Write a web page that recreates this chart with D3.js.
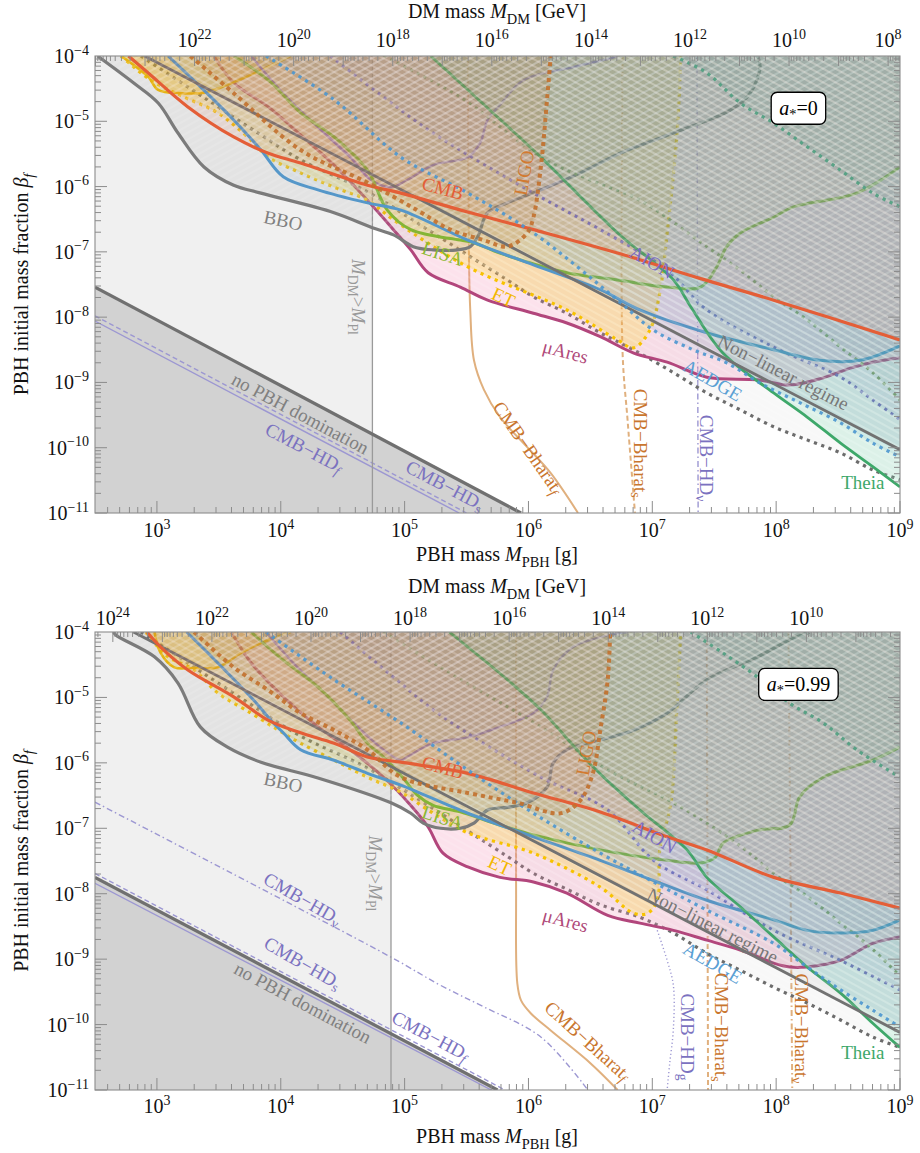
<!DOCTYPE html>
<html><head><meta charset="utf-8">
<script src="https://cdn.jsdelivr.net/npm/d3@7"></script>
<style>
body{margin:0;background:#fff;}
svg text{font-family:"Liberation Serif","Times New Roman",serif;}
</style></head><body>
<svg id="chart" width="920" height="1153"></svg>
<script>
// ---------- axis ranges (log10) ----------
const xRangeExp = [2.5, 9];      // PBH mass [g]
const yRangeExp = [-11, -4];     // beta_f
const xTickExps = [3,4,5,6,7,8,9];
const yTickExps = [-4,-5,-6,-7,-8,-9,-10,-11];
const dmLabelExpsTop = [22,20,18,16,14,12,10,8];
const dmLabelExpsBot = [24,22,20,18,16,14,12,10];
const dmOffsetTop = 30.26, dmOffsetBot = 30.61;   // log10 M_DM = offset - 2.5 log10 M_PBH
const mdmTop = 4.74, mdmBot = 4.89;               // M_DM > M_Pl boundary (log10 g)

// ---------- curves: [log10 M_PBH, log10 beta] ----------  (a* = 0)
const grayTop = [[2.87,-4.00],[3.35,-4.60],[3.84,-5.21],[4.16,-5.59],[4.70,-6.08],[5.13,-6.59],[5.51,-7.05],[5.83,-7.43],[6.04,-7.69],[6.31,-7.94],[6.58,-8.24],[6.85,-8.50],[7.17,-8.85],[7.44,-9.16],[7.71,-9.42],[7.98,-9.68],[8.25,-9.88],[8.52,-10.08],[8.78,-10.34],[9.00,-10.49]];
const bboTop = [[2.52,-4.00],[2.81,-4.41],[3.01,-4.72],[3.17,-5.18],[3.38,-5.70],[3.62,-5.98],[3.84,-6.10],[4.43,-6.40],[4.74,-6.63],[4.91,-6.74],[5.07,-6.92],[5.23,-6.97],[5.43,-6.97],[5.53,-6.92],[5.59,-6.77],[5.67,-6.40],[5.83,-6.25],[6.10,-6.05],[6.42,-5.79],[6.74,-5.49],[7.17,-5.18],[7.63,-4.83],[7.79,-4.57],[7.87,-4.17],[7.85,-4.00]];
const ligoTop = [[3.27,-4.00],[3.62,-4.57],[4.16,-5.44],[4.70,-5.94],[5.10,-6.36],[5.37,-6.66],[5.64,-6.82],[5.83,-6.92],[5.99,-6.71],[6.04,-6.47],[6.10,-5.70],[6.15,-4.67],[6.18,-4.00]];
const purpTop = [[3.76,-4.00],[4.02,-4.57],[4.30,-5.09],[4.56,-5.55],[4.73,-5.90],[4.89,-6.01],[5.02,-5.90],[5.23,-5.67],[5.51,-5.55],[5.61,-5.33],[5.67,-4.98],[5.77,-4.75],[5.96,-4.37],[6.36,-4.17],[6.69,-4.02],[6.72,-4.00]];
const oliveTop = [[4.83,-4.00],[5.45,-4.63],[6.10,-5.55],[6.50,-5.90],[6.90,-6.21],[7.44,-6.92],[7.71,-7.28],[7.98,-7.69],[8.25,-8.04],[8.52,-8.46],[8.78,-8.85],[9.00,-9.27]];
const yellowTop = [[2.71,-4.00],[2.93,-4.32],[3.01,-4.52],[3.19,-4.57],[3.41,-4.55],[3.57,-4.44],[3.76,-4.29],[4.08,-4.00]];
const lisaTop = [[3.62,-4.00],[3.90,-4.37],[4.16,-4.87],[4.43,-5.24],[4.70,-5.75],[4.86,-6.36],[5.05,-6.66],[5.45,-6.82],[5.56,-6.86],[5.77,-7.02],[6.31,-7.32],[6.72,-7.43],[7.12,-7.54],[7.39,-7.54],[7.52,-7.23],[7.60,-6.92],[7.71,-6.71],[7.98,-6.47],[8.14,-6.31],[8.65,-6.10],[9.00,-5.70]];
const aionTop = [[4.40,-4.00],[4.81,-4.60],[5.23,-5.18],[6.04,-6.10],[6.58,-6.66],[7.12,-7.28],[7.44,-7.89],[7.98,-8.46],[8.52,-8.92],[8.78,-9.27],[9.00,-9.57]];
const tealTop = [[7.17,-4.00],[7.44,-4.26],[7.71,-4.72],[7.98,-5.03],[8.25,-5.39],[8.52,-5.75],[8.78,-6.10],[9.00,-6.31]];
const muTop = [[3.46,-4.00],[3.62,-4.41],[3.90,-4.78],[4.16,-5.21],[4.43,-5.67],[4.70,-6.21],[4.91,-6.66],[5.05,-6.97],[5.19,-7.32],[5.45,-7.54],[5.67,-7.74],[6.04,-7.94],[6.31,-8.09],[6.58,-8.30],[6.85,-8.55],[7.12,-8.69],[7.44,-8.92],[7.85,-8.96],[8.11,-9.04],[8.38,-8.93],[8.60,-8.78],[8.78,-8.69],[9.00,-8.62]];
const etTop = [[2.71,-4.00],[2.95,-4.37],[3.22,-4.63],[3.49,-4.87],[3.76,-5.29],[3.90,-5.55],[4.16,-5.79],[4.43,-6.01],[4.70,-6.21],[4.91,-6.51],[5.51,-7.23],[6.31,-7.89],[6.72,-8.35],[6.85,-8.47],[6.98,-8.20],[7.06,-7.63],[7.12,-6.71],[7.20,-5.18],[7.23,-4.00]];
const aedgeTop = [[3.88,-4.00],[4.43,-4.67],[4.97,-5.55],[5.51,-6.10],[6.04,-6.71],[6.72,-7.74],[7.01,-8.20],[7.33,-8.50],[7.60,-8.70],[7.87,-9.01],[8.19,-9.31],[8.52,-9.62],[8.78,-9.93],[9.00,-10.14]];
const blueTop = [[3.09,-4.00],[3.35,-4.47],[3.62,-4.98],[3.84,-5.44],[4.02,-5.85],[4.30,-6.05],[4.70,-6.25],[4.97,-6.36],[5.51,-6.82],[6.04,-7.20],[6.58,-7.58],[6.90,-7.89],[7.44,-8.24],[7.98,-8.50],[8.35,-8.66],[8.68,-8.66],[9.00,-8.44]];
const theiaTop = [[5.21,-4.00],[5.69,-4.83],[6.10,-5.55],[6.72,-6.71],[7.17,-7.43],[7.31,-7.84],[7.57,-8.55],[7.98,-9.16],[8.25,-9.53],[8.52,-9.93],[8.78,-10.29],[9.00,-10.60]];
const nonlinTop = [[2.90,-4.00],[9.00,-10.03]];
const cmbTop = [[2.77,-4.00],[2.93,-4.26],[3.25,-4.78],[3.62,-5.24],[3.90,-5.49],[4.16,-5.64],[4.70,-5.98],[4.97,-6.10],[5.51,-6.39],[6.04,-6.66],[6.74,-7.03],[7.39,-7.41],[7.98,-7.74],[9.00,-8.35]];
const noPbhTop = [[2.50,-7.54],[5.94,-11.00]];
const hdfTop = [[2.50,-8.06],[5.44,-11.00]];
const hdsTop = [[2.50,-7.98],[5.50,-11.00]];
const hdnuTop = [[7.36,-4.00],[7.37,-11.00]];
const bharatFTop = [[5.51,-4.00],[5.52,-7.12],[5.53,-7.89],[5.56,-8.66],[5.64,-9.11],[5.77,-9.53],[5.99,-9.99],[6.18,-10.39],[6.40,-11.00]];
const bharatSTop = [[6.76,-4.00],[6.76,-8.55],[6.80,-9.57],[6.86,-11.00]];

// ---------- (a* = 0.99) ----------
const grayBot = [[2.87,-4.00],[3.35,-4.60],[3.84,-5.21],[4.16,-5.59],[4.70,-6.08],[5.13,-6.58],[5.51,-7.04],[5.83,-7.43],[6.04,-7.69],[6.31,-7.93],[6.58,-8.17],[6.90,-8.36],[7.17,-8.60],[7.44,-8.91],[7.71,-9.17],[7.98,-9.43],[8.25,-9.67],[8.52,-9.93],[8.78,-10.19],[9.00,-10.35]];
const bboBot = [[2.65,-4.00],[2.67,-4.05],[2.98,-4.38],[3.17,-4.78],[3.35,-5.45],[3.57,-5.76],[3.84,-5.99],[4.30,-6.23],[4.89,-6.61],[5.05,-6.77],[5.15,-6.92],[5.29,-7.00],[5.45,-7.00],[5.56,-6.92],[5.67,-6.72],[5.83,-6.68],[5.99,-6.61],[6.15,-6.37],[6.20,-6.00],[6.31,-5.80],[6.58,-5.65],[6.85,-5.50],[7.12,-5.24],[7.44,-4.73],[7.85,-4.38],[8.11,-4.12],[8.27,-4.00]];
const ligoBot = [[3.30,-4.00],[3.62,-4.54],[3.90,-4.89],[4.16,-5.24],[4.43,-5.50],[4.70,-5.80],[4.97,-6.22],[5.51,-6.46],[5.91,-6.61],[6.26,-6.77],[6.42,-6.57],[6.52,-6.16],[6.58,-5.50],[6.64,-4.73],[6.66,-4.00]];
const purpBot = [[3.88,-4.00],[4.10,-4.47],[4.38,-4.99],[4.65,-5.50],[4.83,-5.80],[4.97,-5.96],[5.02,-5.91],[5.23,-5.70],[5.51,-5.61],[5.77,-5.45],[6.04,-5.24],[6.15,-4.99],[6.20,-4.58],[6.36,-4.23],[6.72,-4.02],[6.80,-4.00]];
const oliveBot = [[4.83,-4.00],[5.29,-4.54],[6.10,-5.45],[6.64,-6.11],[7.17,-6.61],[7.71,-7.27],[7.98,-7.69],[8.25,-8.04],[8.52,-8.45],[8.78,-8.85],[9.00,-9.26]];
const yellowBot = [[2.98,-4.00],[3.03,-4.32],[3.14,-4.54],[3.30,-4.55],[3.49,-4.54],[3.68,-4.32],[3.84,-4.17],[4.08,-4.00]];
const lisaBot = [[3.76,-4.00],[4.02,-4.43],[4.30,-4.84],[4.56,-5.35],[4.70,-5.70],[4.83,-5.91],[4.97,-6.19],[5.10,-6.49],[5.23,-6.65],[5.45,-6.75],[5.77,-6.95],[6.04,-7.10],[6.58,-7.33],[7.12,-7.49],[7.39,-7.53],[7.51,-7.44],[7.57,-7.23],[7.85,-7.03],[8.11,-6.95],[8.19,-6.52],[8.38,-6.22],[8.78,-5.96],[9.00,-5.76]];
const aionBot = [[4.48,-4.00],[4.89,-4.66],[5.29,-5.27],[6.10,-6.22],[6.64,-6.72],[7.01,-7.49],[7.44,-7.94],[7.98,-8.56],[8.52,-9.02],[9.00,-9.47]];
const tealBot = [[7.31,-4.00],[7.57,-4.32],[7.85,-4.69],[8.11,-5.09],[8.38,-5.39],[8.65,-5.80],[9.00,-6.22]];
const muBot = [[3.60,-4.00],[3.76,-4.47],[4.02,-4.99],[4.30,-5.45],[4.56,-5.80],[4.83,-6.22],[5.05,-6.65],[5.19,-6.98],[5.31,-7.38],[5.51,-7.59],[5.77,-7.75],[6.04,-7.82],[6.31,-7.99],[6.64,-8.33],[6.90,-8.45],[7.17,-8.56],[7.44,-8.71],[7.71,-8.86],[7.98,-9.06],[8.11,-9.12],[8.25,-9.12],[8.52,-9.02],[8.78,-8.76],[9.00,-8.66]];
const etBot = [[2.91,-4.00],[3.09,-4.38],[3.30,-4.58],[3.49,-4.93],[3.76,-5.24],[3.98,-5.50],[4.16,-5.70],[4.43,-5.96],[4.70,-6.22],[4.97,-6.45],[5.23,-6.77],[5.51,-7.07],[6.04,-7.38],[6.58,-7.90],[6.85,-8.30],[6.96,-8.30],[7.04,-8.10],[7.06,-7.33],[7.15,-6.61],[7.20,-5.09],[7.23,-4.00]];
const aedgeBot = [[3.88,-4.00],[4.43,-4.73],[4.97,-5.39],[5.51,-6.11],[6.04,-6.77],[6.58,-7.38],[6.98,-7.79],[7.44,-8.25],[7.98,-8.76],[8.25,-9.12],[8.52,-9.47],[8.78,-9.78],[9.00,-10.04]];
const blueBot = [[3.24,-4.00],[3.49,-4.47],[3.78,-5.04],[3.94,-5.39],[4.02,-5.54],[4.16,-5.80],[4.43,-5.96],[4.70,-6.16],[4.97,-6.34],[5.51,-6.77],[6.04,-7.13],[6.58,-7.49],[6.90,-7.72],[7.44,-8.10],[7.98,-8.40],[8.25,-8.56],[8.52,-8.60],[8.78,-8.56],[9.00,-8.40]];
const theiaBot = [[5.36,-4.00],[5.83,-4.73],[6.10,-5.19],[6.52,-6.06],[6.90,-6.72],[7.28,-7.33],[7.44,-7.75],[7.71,-8.20],[7.98,-8.66],[8.25,-9.12],[8.52,-9.52],[8.78,-9.98],[9.00,-10.35]];
const nonlinBot = [[2.81,-4.00],[9.00,-10.12]];
const cmbBot = [[2.92,-4.00],[3.03,-4.23],[3.25,-4.58],[3.62,-4.99],[3.90,-5.35],[4.16,-5.54],[4.43,-5.70],[4.70,-5.91],[4.97,-5.99],[5.51,-6.16],[6.04,-6.46],[6.58,-6.75],[7.12,-7.13],[7.44,-7.33],[7.98,-7.75],[8.52,-7.99],[9.00,-8.22]];
const noPbhBot = [[2.50,-7.75],[5.75,-11.00]];
const hdfBot = [[2.50,-7.84],[5.70,-11.00]];
const hdsBot = [[2.50,-7.69],[5.81,-11.00]];
const hdnuBot = [[2.50,-6.60],[4.89,-8.97],[5.29,-9.40],[5.64,-9.73],[6.10,-10.19],[6.48,-11.00]];
const hdgBot = [[7.04,-8.56],[7.12,-9.02],[7.17,-9.40],[7.17,-10.07],[7.14,-10.60],[7.12,-11.00]];
const bharatFBot = [[5.90,-4.00],[5.90,-7.84],[5.91,-9.37],[5.94,-9.63],[6.02,-9.83],[6.18,-10.09],[6.50,-10.59],[6.72,-11.00]];
const bharatSBot = [[7.44,-4.00],[7.45,-11.00]];
const bharatNuBot = [[8.10,-4.00],[8.13,-11.00]];

// ---------- styles ----------
const styles = {
  gray:  {fill:'#a0a0a0', fo:0.07, hatch:'hB', stroke:'#6c6c6c', sw:3.2, dash:'3.2,4.5'},
  mu:    {fill:'#f07aaa', fo:0.22, hatch:'hB', stroke:'#b2467c', sw:3},
  et:    {fill:'#ffd400', fo:0.24, hatch:'hB', stroke:'#f7c200', sw:3.2, dash:'3.2,4.5'},
  yellow:{fill:'#f2c200', fo:0.22, hatch:'hB', stroke:'#f2b900', sw:2.6},
  bbo:   {fill:'#8c8c8c', fo:0.12, hatch:'hA', stroke:'#7b7b7b', sw:3.2},
  purp:  {fill:'#8a6aa8', fo:0.09, hatch:'hA', stroke:'#9a78b6', sw:2.4},
  olive: {fill:'#90aa60', fo:0.08, hatch:'hA', stroke:'#8aa35e', sw:3, dash:'3,4.5'},
  lisa:  {fill:'#8cba38', fo:0.09, hatch:'hA', stroke:'#84b535', sw:3},
  aion:  {fill:'#7c6cc0', fo:0.10, hatch:'hA', stroke:'#7b6cc2', sw:3, dash:'3,4.5'},
  teal:  {fill:'#3fa882', fo:0.13, hatch:'hA', stroke:'#4f9f80', sw:3.2, dash:'3.2,4.5', late:true},
  aedge: {fill:'#58a2dc', fo:0.13, hatch:'hB', stroke:'#4b96cf', sw:3.2, dash:'3.2,4.5', late:true},
  blue:  {fill:'#5a9ad0', fo:0.08, hatch:'hB', stroke:'#5597c9', sw:3},
  theia: {fill:'#3cc88e', fo:0.15, hatch:'hB', stroke:'#3ea86a', sw:2.8},
  ligo:  {fill:'#c87a30', fo:0.16, hatch:'hA', stroke:'#c2702c', sw:4, dash:'4,4', late:true},
  nonlin:{fill:'#707070', fo:0.08, hatch:'hB', stroke:'#727272', sw:2.8},
  cmb:   {fill:'#e06040', fo:0.11, hatch:'hA', stroke:'#e45e37', sw:3.2}
};
const order = ['gray','mu','et','yellow','bbo','purp','olive','lisa','aion','teal','aedge','blue','theia','ligo','nonlin','cmb'];

const curvesTop = {gray:grayTop,bbo:bboTop,ligo:ligoTop,purp:purpTop,olive:oliveTop,yellow:yellowTop,lisa:lisaTop,aion:aionTop,teal:tealTop,mu:muTop,et:etTop,aedge:aedgeTop,blue:blueTop,theia:theiaTop,nonlin:nonlinTop,cmb:cmbTop};
const curvesBot = {gray:grayBot,bbo:bboBot,ligo:ligoBot,purp:purpBot,olive:oliveBot,yellow:yellowBot,lisa:lisaBot,aion:aionBot,teal:tealBot,mu:muBot,et:etBot,aedge:aedgeBot,blue:blueBot,theia:theiaBot,nonlin:nonlinBot,cmb:cmbBot};

const HDC='#9c97d2', HDL='#7b72c0', BHC='#e0b07e', BHL='#c9762e';
const linesTop = [
  {d:hdfTop, c:HDC, w:1.4},
  {d:hdsTop, c:HDC, w:1.4, dash:'5,3'},
  {d:hdnuTop, c:HDC, w:1.4, dash:'6,3,1.5,3'},
  {d:bharatFTop, c:BHC, w:2},
  {d:bharatSTop, c:BHC, w:2, dash:'5,3'}
];
const linesBot = [
  {d:hdfBot, c:HDC, w:1.4},
  {d:hdsBot, c:HDC, w:1.4, dash:'5,3'},
  {d:hdnuBot, c:HDC, w:1.4, dash:'6,3,1.5,3'},
  {d:hdgBot, c:HDC, w:1.4, dash:'1.2,2.5'},
  {d:bharatFBot, c:BHC, w:2},
  {d:bharatSBot, c:BHC, w:2, dash:'5,3'},
  {d:bharatNuBot, c:BHC, w:2, dash:'6,3,1.5,3'}
];

const labelsTop = [
  {p:[['CMB']], X:5.31, Y:-6.02, r:15, c:'#e45e37'},
  {p:[['LIGO']], X:5.96, Y:-5.79, r:-80, c:'#d27a30'},
  {p:[['BBO']], X:4.02, Y:-6.51, r:12, c:'#808080'},
  {p:[['LISA']], X:5.31, Y:-7.02, r:18, c:'#8ab833'},
  {p:[['ET']], X:5.80, Y:-7.69, r:25, c:'#f2b800'},
  {p:[['μAres']], X:6.30, Y:-8.52, r:15, c:'#b04a7a'},
  {p:[['AION']], X:7.00, Y:-7.15, r:30, c:'#7b6cc2'},
  {p:[['AEDGE']], X:7.49, Y:-8.96, r:30, c:'#5aa0d4'},
  {p:[['Non−linear regime']], X:8.06, Y:-8.84, r:27, c:'#777'},
  {p:[['Theia']], X:8.70, Y:-10.52, r:0, c:'#3ea86a'},
  {p:[['CMB−Bharat'],['f','subi']], X:6.00, Y:-9.99, r:55, c:BHL},
  {p:[['CMB−Bharat'],['s','sub']], X:6.91, Y:-9.93, r:90, c:BHL},
  {p:[['CMB−HD'],['ν','sub']], X:7.44, Y:-10.16, r:90, c:HDL},
  {p:[['no PBH domination']], X:4.16, Y:-9.47, r:28, c:'#808080'},
  {p:[['CMB−HD'],['f','subi']], X:4.19, Y:-9.99, r:28, c:HDL},
  {p:[['CMB−HD'],['s','sub']], X:5.33, Y:-10.57, r:28, c:HDL},
  {p:[['M','i'],['DM','sub'],['>'],['M','i'],['Pl','sub']], X:4.63, Y:-7.69, r:90, c:'#999', s:19}
];
const labelsBot = [
  {p:[['CMB']], X:5.31, Y:-6.06, r:15, c:'#e45e37'},
  {p:[['LIGO']], X:6.46, Y:-5.85, r:-80, c:'#d27a30'},
  {p:[['BBO']], X:4.02, Y:-6.29, r:12, c:'#808080'},
  {p:[['LISA']], X:5.31, Y:-6.83, r:18, c:'#8ab833'},
  {p:[['ET']], X:5.77, Y:-7.56, r:25, c:'#f2b800'},
  {p:[['μAres']], X:6.30, Y:-8.40, r:15, c:'#b04a7a'},
  {p:[['AION']], X:7.02, Y:-7.12, r:30, c:'#7b6cc2'},
  {p:[['AEDGE']], X:7.49, Y:-9.05, r:30, c:'#5aa0d4'},
  {p:[['Non−linear regime']], X:7.49, Y:-8.48, r:27, c:'#777'},
  {p:[['Theia']], X:8.70, Y:-10.42, r:0, c:'#3ea86a'},
  {p:[['CMB−Bharat'],['f','subi']], X:6.48, Y:-10.24, r:42, c:BHL},
  {p:[['CMB−HD'],['g','sub']], X:7.29, Y:-10.19, r:90, c:HDL},
  {p:[['CMB−Bharat'],['s','sub']], X:7.56, Y:-10.04, r:90, c:BHL},
  {p:[['CMB−Bharat'],['ν','sub']], X:8.21, Y:-10.06, r:90, c:BHL},
  {p:[['CMB−HD'],['ν','sub']], X:4.18, Y:-8.07, r:30, c:HDL},
  {p:[['CMB−HD'],['s','sub']], X:4.18, Y:-9.05, r:30, c:HDL},
  {p:[['no PBH domination']], X:4.18, Y:-9.66, r:28, c:'#808080'},
  {p:[['CMB−HD'],['f','subi']], X:5.21, Y:-10.16, r:28, c:HDL},
  {p:[['M','i'],['DM','sub'],['>'],['M','i'],['Pl','sub']], X:4.77, Y:-7.69, r:90, c:'#999', s:19}
];

// ---------- drawing ----------
const svg = d3.select('#chart');
const defs = svg.append('defs');
function hatch(id, angle){
  const p = defs.append('pattern').attr('id',id).attr('patternUnits','userSpaceOnUse')
    .attr('width',12).attr('height',6).attr('patternTransform',`rotate(${angle})`);
  p.append('line').attr('x1',0).attr('x2',12).attr('y1',3).attr('y2',3)
    .attr('stroke','#fff').attr('stroke-width',0.8).attr('stroke-opacity',0.3);
}
hatch('hA',-29); hatch('hB',29);

function rich(textSel, parts, size){
  let cur = 0;
  for (const [t,k] of parts){
    const ts = textSel.append('tspan').text(t);
    let off = 0, fs = size;
    if (k && k.startsWith('sub')) { off = size*0.28; fs = size*0.72; }
    else if (k === 'sup') { off = -size*0.42; fs = size*0.7; }
    ts.attr('font-size', fs);
    if (off !== cur) { ts.attr('dy', off-cur); cur = off; }
    if (k === 'i' || k === 'subi') ts.attr('font-style','italic');
  }
}

const L = 95, R = 900;
function drawPanel(cfg){
  const x = d3.scaleLog().domain([10**xRangeExp[0], 10**xRangeExp[1]]).range([L,R]);
  const y = d3.scaleLog().domain([10**yRangeExp[0], 10**yRangeExp[1]]).range([cfg.bottom, cfg.top]);
  const px = d => x(10**d[0]), py = d => y(10**d[1]);
  const smooth = d3.line().x(px).y(py).curve(d3.curveCatmullRom.alpha(0.5));
  const straight = d3.line().x(px).y(py);
  const clipId = 'clip'+cfg.id;
  defs.append('clipPath').attr('id',clipId).append('rect')
    .attr('x',L).attr('y',cfg.top).attr('width',R-L).attr('height',cfg.bottom-cfg.top);
  const g = svg.append('g');
  const plot = g.append('g').attr('clip-path',`url(#${clipId})`);

  plot.append('rect').attr('x',L).attr('y',cfg.top).attr('width',x(10**cfg.mdm)-L)
    .attr('height',cfg.bottom-cfg.top).attr('fill','#f0f0f0');
  const np = cfg.noPbh;
  const npPath = straight(np) + [[np[1][0]+0.5,-11.5],[2.3,-11.5],[2.3,np[0][1]]].map(p=>`L${px(p)},${py(p)}`).join('') + 'Z';
  plot.append('path').attr('d',npPath).attr('fill','#d2d2d2');

  cfg.lines.forEach(l => {
    plot.append('path').attr('d', (l.d.length>2?smooth:straight)(l.d)).attr('fill','none')
      .attr('stroke',l.c).attr('stroke-width',l.w).attr('stroke-dasharray',l.dash||null);
  });
  plot.append('line').attr('x1',x(10**cfg.mdm)).attr('x2',x(10**cfg.mdm))
    .attr('y1',cfg.top).attr('y2',cfg.bottom).attr('stroke','#9a9a9a').attr('stroke-width',1.3);

  const lateLines = [];
  order.forEach(k => {
    const pts = cfg.curves[k], st = styles[k];
    const gen = pts.length > 2 ? smooth : straight;
    const first = pts[0], last = pts[pts.length-1];
    let extras;
    if (last[0] >= 8.99) extras = [[9.3,last[1]],[9.3,-3.5],[first[0],-3.5]];
    else extras = [[last[0],-3.5],[first[0],-3.5]];
    const d = gen(pts) + extras.map(p=>`L${px(p)},${py(p)}`).join('') + 'Z';
    plot.append('path').attr('d',d).attr('fill',st.fill).attr('fill-opacity',st.fo);
    plot.append('path').attr('d',d).attr('fill',`url(#${st.hatch})`);
    if (st.late) lateLines.push([gen(pts), st]);
    else plot.append('path').attr('d',gen(pts)).attr('fill','none').attr('stroke',st.stroke)
      .attr('stroke-width',st.sw).attr('stroke-dasharray',st.dash||null);
  });
  lateLines.forEach(([d, st]) => {
    plot.append('path').attr('d',d).attr('fill','none').attr('stroke',st.stroke).attr('stroke-opacity',0.9)
      .attr('stroke-width',st.sw).attr('stroke-dasharray',st.dash||null);
  });
  plot.append('path').attr('d',straight(np)).attr('stroke','#707070').attr('stroke-width',3.2).attr('fill','none');

  cfg.labels.forEach(lb => {
    const t = g.append('text').attr('transform',`translate(${px([lb.X,lb.Y])},${py([lb.X,lb.Y])}) rotate(${lb.r})`)
      .attr('text-anchor','middle').attr('dominant-baseline','central').attr('fill',lb.c);
    rich(t, lb.p, lb.s||19);
  });

  const bx = px([8.18,0]), by = py([0,-4.80]);
  const bt = g.append('text').attr('x',bx).attr('y',by).attr('text-anchor','middle').attr('dominant-baseline','central').attr('fill','#000');
  rich(bt, [['a','i'],['*','sub'],['='+cfg.spin]], 20);
  const bb = bt.node().getBBox();
  g.insert('rect','text:last-child').attr('x',bb.x-8).attr('y',by-16).attr('width',bb.width+16).attr('height',32)
    .attr('rx',6).attr('fill','#fff').attr('stroke','#000').attr('stroke-width',1.3);
  bt.raise();

  const axc = '#8c8c8c';
  g.append('rect').attr('x',L).attr('y',cfg.top).attr('width',R-L).attr('height',cfg.bottom-cfg.top)
    .attr('fill','none').attr('stroke',axc).attr('stroke-width',1.1);
  for (let e=2;e<=9;e++) for (let m=1;m<=9;m++){
    const v = m*10**e; if (v < 10**xRangeExp[0]-1e-9 || v > 10**xRangeExp[1]*1.0001) continue;
    const xx = x(v), len = m===1?12:6;
    g.append('line').attr('x1',xx).attr('x2',xx).attr('y1',cfg.bottom).attr('y2',cfg.bottom-len).attr('stroke',axc).attr('stroke-width',1);
  }
  xTickExps.forEach(e => {
    const t = g.append('text').attr('x',x(10**e)).attr('y',cfg.tickLabelY).attr('text-anchor','middle').attr('fill','#111');
    rich(t, [['10'],[String(e),'sup']], 20);
  });
  for (let e=-11;e<=-5;e++) for (let m=1;m<=9;m++){
    const v = m*10**e, yy = y(v), len = m===1?12:6;
    g.append('line').attr('x1',L).attr('x2',L+len).attr('y1',yy).attr('y2',yy).attr('stroke',axc).attr('stroke-width',1);
    g.append('line').attr('x1',R).attr('x2',R-len).attr('y1',yy).attr('y2',yy).attr('stroke',axc).attr('stroke-width',1);
  }
  yTickExps.forEach(e => {
    const t = g.append('text').attr('x',89).attr('y',y(10**e)+7).attr('text-anchor','end').attr('fill','#111');
    rich(t, [['10'],['−'+Math.abs(e),'sup']], 20);
  });
  const a = cfg.dmOffset;
  const xdm = d3.scaleLog().domain([10**(a-2.5*xRangeExp[0]), 10**(a-2.5*xRangeExp[1])]).range([L,R]);
  const [dLo, dHi] = [a-2.5*xRangeExp[1], a-2.5*xRangeExp[0]];
  for (let k=Math.floor(dLo);k<=Math.ceil(dHi);k++) for (let m=1;m<=9;m++){
    const lv = k + Math.log10(m); if (lv < dLo || lv > dHi) continue;
    const xx = xdm(10**lv), len = m===1?10:5;
    g.append('line').attr('x1',xx).attr('x2',xx).attr('y1',cfg.top).attr('y2',cfg.top+len).attr('stroke',axc).attr('stroke-width',1);
  }
  cfg.dmExps.forEach(e => {
    const t = g.append('text').attr('x',xdm(10**e)).attr('y',cfg.dmLabelY).attr('text-anchor','middle').attr('fill','#111');
    rich(t, [['10'],[String(e),'sup']], 20);
  });
  const tt = g.append('text').attr('x',497).attr('y',cfg.dmTitleY).attr('text-anchor','middle').attr('fill','#111');
  rich(tt, [['DM mass '],['M','i'],['DM','sub'],[' [GeV]']], 20);
  const bt2 = g.append('text').attr('x',497).attr('y',cfg.xTitleY).attr('text-anchor','middle').attr('fill','#111');
  rich(bt2, [['PBH mass '],['M','i'],['PBH','sub'],[' [g]']], 20);
  const yt = g.append('text').attr('transform',`translate(28,${(cfg.top+cfg.bottom)/2}) rotate(-90)`).attr('text-anchor','middle').attr('fill','#111');
  rich(yt, [['PBH initial mass fraction '],['β','i'],['f','subi']], 20);
}

drawPanel({id:'a', top:56, bottom:513, dmOffset:dmOffsetTop, mdm:mdmTop, spin:'0',
  dmExps:dmLabelExpsTop, curves:curvesTop, lines:linesTop, noPbh:noPbhTop, labels:labelsTop,
  tickLabelY:537, dmLabelY:47, dmTitleY:18, xTitleY:561});
drawPanel({id:'b', top:632, bottom:1090, dmOffset:dmOffsetBot, mdm:mdmBot, spin:'0.99',
  dmExps:dmLabelExpsBot, curves:curvesBot, lines:linesBot, noPbh:noPbhBot, labels:labelsBot,
  tickLabelY:1113, dmLabelY:625, dmTitleY:593, xTitleY:1143});
</script></body></html>
